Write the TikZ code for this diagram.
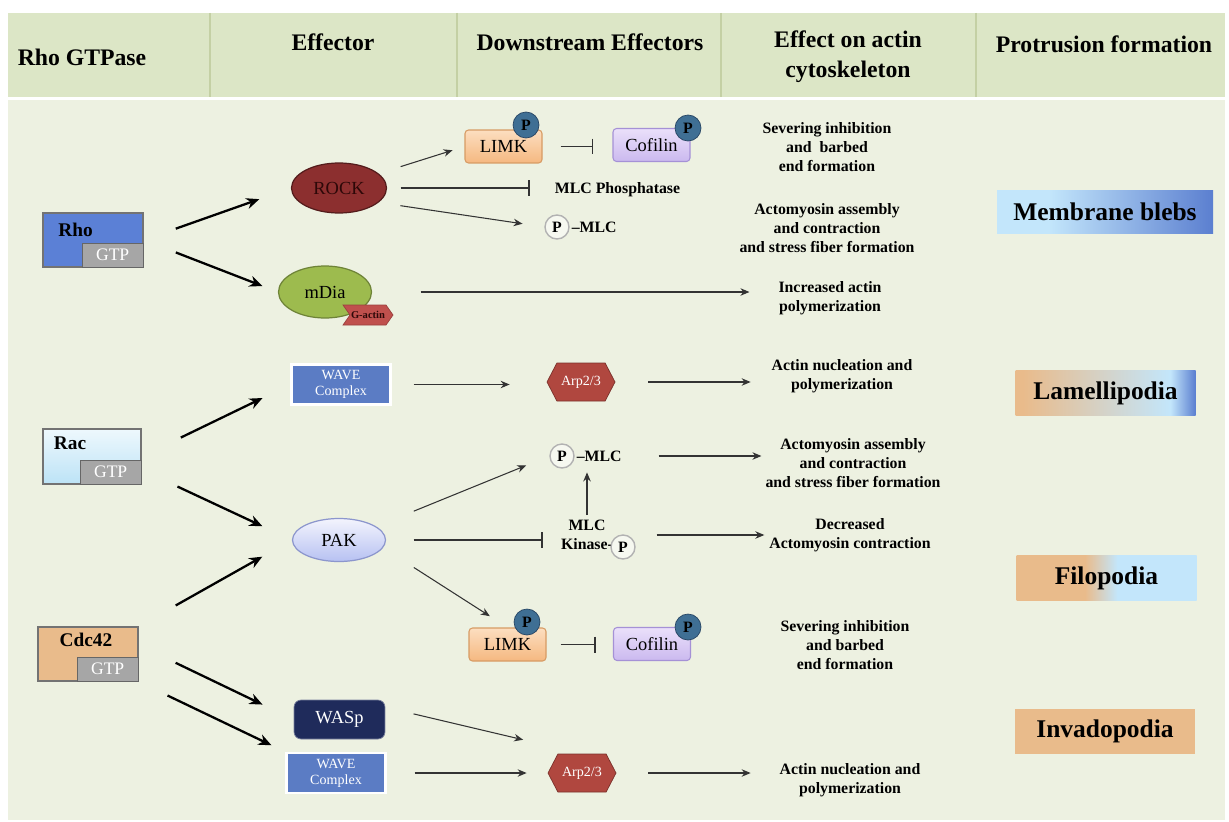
\documentclass[tikz,border=0pt]{standalone}
\usepackage{fontspec}
\setmainfont{Liberation Serif}
\usetikzlibrary{arrows.meta,calc,positioning,shapes.geometric,shapes.symbols}
\definecolor{rghead}{RGB}{220,230,198}
\definecolor{rgbody}{RGB}{237,241,225}
\definecolor{rgline}{RGB}{196,208,164}
\definecolor{rgrho}{RGB}{91,128,214}
\definecolor{rggrey}{RGB}{166,166,166}
\definecolor{rgracT}{RGB}{238,248,253}
\definecolor{rgracB}{RGB}{188,227,246}
\definecolor{rgtan}{RGB}{233,187,139}
\definecolor{rgrock}{RGB}{140,47,47}
\definecolor{rgrocktxt}{RGB}{45,8,8}
\definecolor{rgdia}{RGB}{157,187,78}
\definecolor{rggact}{RGB}{192,80,77}
\definecolor{rgwave}{RGB}{91,124,196}
\definecolor{rgwasp}{RGB}{31,43,91}
\definecolor{rgarp}{RGB}{176,71,63}
\definecolor{rgpakT}{RGB}{243,244,253}
\definecolor{rgpakB}{RGB}{183,193,242}
\definecolor{rgpakD}{RGB}{140,150,205}
\definecolor{rglimkT}{RGB}{252,222,192}
\definecolor{rglimkB}{RGB}{245,184,128}
\definecolor{rglimkD}{RGB}{215,155,100}
\definecolor{rgcofT}{RGB}{234,224,250}
\definecolor{rgcofB}{RGB}{203,185,239}
\definecolor{rgcofD}{RGB}{165,145,214}
\definecolor{rgp}{RGB}{63,111,148}
\definecolor{rgpdark}{RGB}{40,70,100}
\definecolor{rglight}{RGB}{195,230,251}
\definecolor{rgblue}{RGB}{91,127,208}
\pgfdeclarehorizontalshading{blebshade}{100bp}{color(0bp)=(rglight); color(37bp)=(rglight); color(75bp)=(rgblue); color(100bp)=(rgblue)}
\pgfdeclarehorizontalshading{lamshade}{100bp}{color(0bp)=(rgtan); color(27bp)=(rgtan); color(68bp)=(rglight); color(75bp)=(rgblue); color(100bp)=(rgblue)}
\pgfdeclarehorizontalshading{filoshade}{100bp}{color(0bp)=(rgtan); color(44bp)=(rgtan); color(53bp)=(rglight); color(100bp)=(rglight)}

\begin{document}
\begin{tikzpicture}[x=0.02cm,y=-0.02cm,every node/.style={align=center,inner sep=1pt},
    hdr/.style={font=\fontsize{13.5}{17}\selectfont\bfseries},
    effect/.style={font=\fontsize{9}{10.8}\selectfont\bfseries},
    gtpase/.style={draw=black!55,line width=.8pt,minimum width=2cm,minimum height=1.08cm},
    gtpbox/.style={draw=black!60,line width=.6pt,fill=rggrey,text=white,minimum width=1.22cm,minimum height=.48cm,anchor=south east,font=\fontsize{10}{12}\selectfont},
    gtplabel/.style={font=\fontsize{11}{13}\selectfont\bfseries},
    effell/.style={ellipse,line width=.7pt,font=\fontsize{10.5}{12}\selectfont},
    wavebox/.style={draw=white,line width=1.2pt,fill=rgwave,text=white,minimum width=1.98cm,minimum height=.8cm,font=\fontsize{8}{9}\selectfont},
    arpbox/.style={signal,signal to=east and west,signal pointer angle=125,draw=rgarp!70!black,fill=rgarp,text=white,minimum width=1.36cm,minimum height=.76cm,font=\fontsize{8}{9}\selectfont},
    gact/.style={signal,signal from=west,signal to=east,signal pointer angle=110,fill=rggact,draw=rggact!80!black,text=rgrocktxt,minimum width=1cm,minimum height=.4cm,inner sep=0pt,font=\fontsize{6}{7}\selectfont\bfseries},
    kinbox/.style={rounded corners=2pt,line width=.6pt,minimum width=1.54cm,minimum height=.66cm,font=\fontsize{10.5}{12}\selectfont},
    phos/.style={circle,draw=rgpdark,fill=rgp,minimum size=.52cm,inner sep=0pt,font=\fontsize{9}{10}\selectfont\bfseries},
    pring/.style={circle,draw=black!30,line width=.8pt,fill=rgbody!50!white,minimum size=.48cm,inner sep=0pt,font=\fontsize{9}{10}\selectfont\bfseries},
    protbox/.style={minimum width=3.6cm,minimum height=.91cm,font=\fontsize{14.5}{16}\selectfont\bfseries},
    bigact/.style={line width=1.3pt,-{Stealth[length=2.6mm,width=2.2mm]}},
    activ/.style={line width=.6pt,draw=black!80,-{Stealth[length=1.8mm,width=1.5mm]}},
    inhib/.style={line width=.6pt,draw=black!80,-{Bar[width=3.2mm,line width=1pt]}}]
    \fill[white] (0,0) rectangle (1229,821);
    \fill[rghead] (8,13) rectangle (1225,97);
    \fill[rgbody] (8,100) rectangle (1225,820);
    \foreach \x in {210,457,721,976}
      \draw[rgline,line width=.8pt] (\x,13) -- (\x,97);
    \node[hdr] (hgtp) at (82,57) {Rho GTPase};
    \node[hdr] (heff) at (333,42) {Effector};
    \node[hdr] (hdown) at (590,42) {Downstream Effectors};
    \node[hdr] (hact) at (848,57) {Effect on actin\\cytoskeleton};
    \node[hdr] (hprot) at (1104,44) {Protrusion formation};

    \node[gtpase,fill=rgrho] (rho) at (93,240) {};
    \node[gtpbox] (rhogtp) at (rho.south east) {GTP};
    \node[gtplabel] (rhotxt) at ($(rho.center)+(-17.5,-10)$) {Rho};
    \node[gtpase,top color=rgracT,bottom color=rgracB,minimum width=1.96cm,minimum height=1.1cm] (rac) at (92,456.5) {};
    \node[gtpbox] (racgtp) at (rac.south east) {GTP};
    \node[gtplabel] (ractxt) at ($(rac.center)+(-22,-13.5)$) {Rac};
    \node[gtpase,fill=rgtan] (cdc) at (88,654) {};
    \node[gtpbox] (cdcgtp) at (cdc.south east) {GTP};
    \node[gtplabel] (cdctxt) at ($(cdc.center)+(-2,-14)$) {Cdc42};

    \node[effell,fill=rgrock,draw=rgrock!60!black,text=rgrocktxt,minimum width=1.9cm,minimum height=1cm] (rock) at (339,188) {ROCK};
    \node[effell,fill=rgdia,draw=rgdia!70!black,minimum width=1.86cm,minimum height=1.04cm] (mdia) at (325,292) {mDia};
    \node[gact] (gactin) at ($(mdia.center)+(43,23)$) {G-actin};
    \node[wavebox] (wave1) at (341,384.5) {WAVE\\Complex};
    \node[effell,top color=rgpakT,bottom color=rgpakB,draw=rgpakD,minimum width=1.86cm,minimum height=.86cm] (pak) at (339,540) {PAK};
    \node[rounded corners=4pt,fill=rgwasp,draw=rgwasp!60!white,text=white,minimum width=1.82cm,minimum height=.78cm,font=\fontsize{10.5}{12}\selectfont] (wasp) at (339.5,719.5) {WASp};
    \node[wavebox] (wave2) at (336,773) {WAVE\\Complex};

    \node[kinbox,top color=rglimkT,bottom color=rglimkB,draw=rglimkD] (limk1) at (503.5,146.5) {LIMK};
    \node[phos] (limk1p) at ($(limk1.center)+(22.5,-21.5)$) {P};
    \node[kinbox,top color=rgcofT,bottom color=rgcofB,draw=rgcofD] (cof1) at (651.5,145) {Cofilin};
    \node[phos] (cof1p) at ($(cof1.center)+(36.5,-17)$) {P};
    \node[effect] (mlcp) at (617.5,190) {MLC Phosphatase};
    \node[pring] (pm1) at (557,227) {P};
    \node[effect,anchor=west] (mlc1) at (pm1.east) {–MLC};
    \node[arpbox] (arp1) at (581,382) {Arp2/3};
    \node[pring] (pm2) at (562,456) {P};
    \node[effect,anchor=west] (mlc2) at (pm2.east) {–MLC};
    \node[effect] (mlck) at (587,535) {MLC\\Kinase-};
    \node[pring] (kp) at ($(mlck.center)+(36,12)$) {P};
    \node[kinbox,top color=rglimkT,bottom color=rglimkB,draw=rglimkD] (limk2) at (507.5,644.5) {LIMK};
    \node[phos] (limk2p) at ($(limk2.center)+(19.5,-22.5)$) {P};
    \node[kinbox,top color=rgcofT,bottom color=rgcofB,draw=rgcofD] (cof2) at (652,644) {Cofilin};
    \node[phos] (cof2p) at ($(cof2.center)+(36,-17)$) {P};
    \node[arpbox] (arp2) at (582,773) {Arp2/3};

    \node[effect] (sev1) at (827,147) {Severing inhibition\\and\ \ barbed\\end formation};
    \node[effect] (act1) at (827,228) {Actomyosin assembly\\and contraction\\and stress fiber formation};
    \node[effect] (inc) at (830,298) {Increased actin\\polymerization};
    \node[effect] (nuc1) at (842,376) {Actin nucleation and\\polymerization};
    \node[effect] (act2) at (853,463) {Actomyosin assembly\\and contraction\\and stress fiber formation};
    \node[effect] (dec) at (850,535) {Decreased\\Actomyosin contraction};
    \node[effect] (sev2) at (845,645) {Severing inhibition\\and barbed\\end formation};
    \node[effect] (nuc2) at (850,780) {Actin nucleation and\\polymerization};

    \node[protbox,shade,shading=blebshade,minimum width=4.32cm,minimum height=.88cm] (bleb) at (1105,212) {Membrane blebs};
    \node[protbox,shade,shading=lamshade] (lam) at (1105.5,393) {Lamellipodia};
    \node[protbox,shade,shading=filoshade] (filo) at (1106.5,578) {Filopodia};
    \node[protbox,fill=rgtan] (inva) at (1105,731.5) {Invadopodia};

    \draw[bigact,shorten <=6.8mm,shorten >=6.7mm] (rho.east) -- (rock.west);
    \draw[bigact,shorten <=6.9mm,shorten >=3.3mm] (rho.east) -- (mdia.west);
    \draw[bigact,shorten <=8.7mm,shorten >=6.2mm] (rac.east) -- (wave1.west);
    \draw[bigact,shorten <=7.9mm,shorten >=6.5mm] (rac.-15) -- (pak.west);
    \draw[bigact,shorten <=8.5mm,shorten >=6.8mm] (cdc.north east) -- (pak.west);
    \draw[bigact,shorten <=8.2mm,shorten >=6.9mm] (cdc.10) -- (wasp.west);
    \draw[bigact,shorten <=6.4mm,shorten >=3.1mm] (cdc.south east) -- (wave2.north west);

    \draw[activ,shorten <=4.6mm,shorten >=2.5mm] (rock.20) -- (limk1.west);
    \draw[inhib,shorten <=2.7mm,shorten >=4.6mm] (rock.east) -- (rock.east -| mlcp.west);
    \draw[activ,shorten <=4.4mm,shorten >=4.4mm] (rock.-20) -- (pm1.west);
    \draw[activ,shorten <=9.7mm,shorten >=5.4mm] (mdia.east) -- (mdia.east -| inc.west);
    \draw[inhib,shorten <=3.6mm,shorten >=3.8mm] (limk1.east) -- (limk1.east -| cof1.west);
    \draw[activ,shorten <=4.4mm,shorten >=7.4mm] (wave1.east) -- (wave1.east -| arp1.west);
    \draw[activ,shorten <=6.6mm,shorten >=3.8mm] (arp1.east) -- (arp1.east -| nuc1.west);
    \draw[activ,shorten <=8.1mm,shorten >=5mm] (pak.20) -- (pm2.west);
    \draw[inhib,shorten <=5.5mm,shorten >=3.2mm] (pak.east) -- (pak.east -| mlck.west);
    \draw[activ,shorten <=.6mm,shorten >=1.8mm] (mlck.north) -- (mlck.north |- mlc2.south);
    \draw[activ,shorten <=7mm,shorten >=.4mm] (mlc2.east) -- (mlc2.east -| act2.west);
    \draw[activ,shorten <=4.2mm,shorten >=.6mm] (mlck.east -| kp.east) -- (mlck.east -| dec.west);
    \draw[activ,shorten <=7.3mm,shorten >=4.2mm] (pak.-10) -- (limk2.north);
    \draw[inhib,shorten <=2.8mm,shorten >=3.4mm] (limk2.east) -- (limk2.east -| cof2.west);
    \draw[activ,shorten <=5.8mm,shorten >=12.1mm] (wasp.15) -- (arp2.north);
    \draw[activ,shorten <=5.6mm,shorten >=4.2mm] (wave2.east) -- (wave2.east -| arp2.west);
    \draw[activ,shorten <=6.4mm,shorten >=5.4mm] (arp2.east) -- (arp2.east -| nuc2.west);
  \end{tikzpicture}
\end{document}
